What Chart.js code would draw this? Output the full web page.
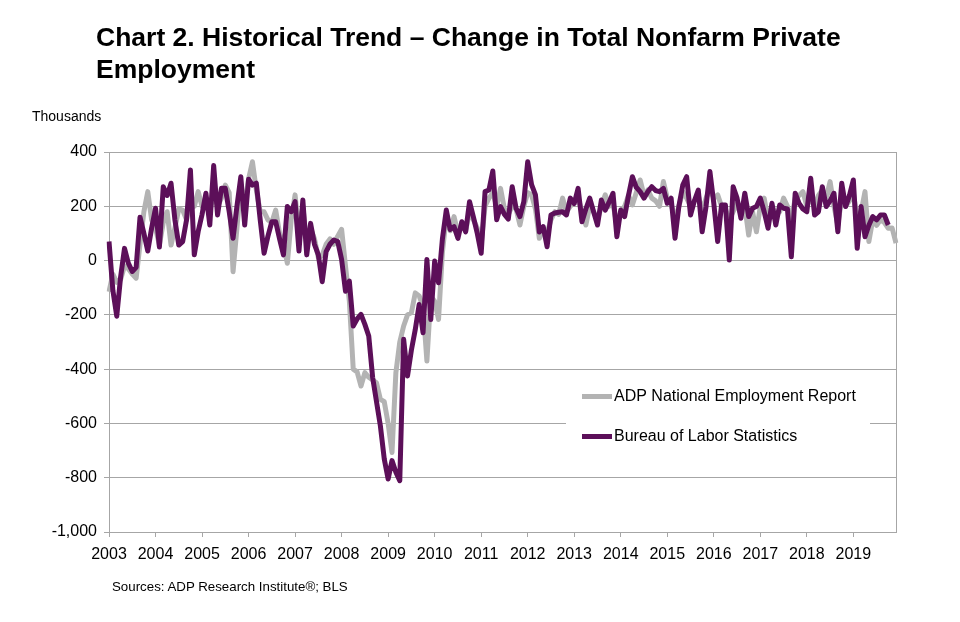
<!DOCTYPE html>
<html>
<head>
<meta charset="utf-8">
<script src="https://cdn.jsdelivr.net/npm/chart.js@4"></script>
<style>
  body { margin: 0; background: #fff; font-family: Arial, "Liberation Sans", sans-serif; }
  #wrap { position: relative; width: 960px; height: 622px; overflow: hidden; }
  #chart { position: absolute; left: 0; top: 0; }
  .title { position: absolute; left: 96px; top: 21px; font-size: 26.5px; line-height: 32px; font-weight: bold; color: #000; white-space: nowrap; }
  .units { position: absolute; left: 32px; top: 109px; font-size: 14px; line-height: 14px; color: #000; }
  .source { position: absolute; left: 112px; top: 580px; font-size: 13.3px; line-height: 14px; color: #000; }
</style>
</head>
<body>
<div id="wrap">
  <canvas id="chart" width="960" height="622"></canvas>
  <div class="title">Chart 2. Historical Trend – Change in Total Nonfarm Private<br>Employment</div>
  <div class="units">Thousands</div>
  <div class="source">Sources: ADP Research Institute®; BLS</div>
</div>
<script>
// monthly change, thousands, Jan 2003 .. Dec 2019 (one row per year)
var adp = [
  -115, -50, -80, -70, -20, -30, -50, -65, 60, 180, 254, 150,
  120, 57, 140, 180, 57, 120, 190, 186, 150, 230, 200, 254,
  200, 230, 180, 250, 200, 230, 278, 250, -41, 120, 280, 200,
  300, 364, 260, 180, 180, 150, 140, 186, 100, 60, -10, 150,
  242, 100, 200, 60, 120, 80, 10, 20, 60, 80, 60, 90,
  115, -20, -150, -400, -410, -462, -413, -430, -440, -450, -511, -520,
  -600, -707, -413, -300, -241, -200, -192, -119, -130, -170, -370, -131,
  -150, -217, 30, 163, 110, 162, 100, 130, 110, 180, 150, 120,
  60, 200, 230, 250, 200, 266, 190, 170, 200, 190, 131, 200,
  250, 242, 190, 82, 120, 100, 150, 180, 170, 230, 180, 200,
  220, 230, 180, 131, 200, 180, 150, 200, 242, 200, 210, 130,
  180, 200, 240, 205, 250, 297, 240, 260, 230, 220, 200, 291,
  230, 210, 150, 200, 254, 230, 200, 220, 240, 180, 230, 266,
  230, 242, 200, 190, 150, 180, 210, 170, 200, 94, 180, 106,
  200, 230, 150, 200, 170, 180, 230, 200, 150, 230, 240, 254,
  200, 230, 200, 240, 260, 230, 291, 200, 131, 230, 200, 220,
  250, 150, 180, 254, 70, 150, 130, 150, 140, 119, 120, 64
]
var bls = [
  70, -110, -205, -60, 45, -10, -40, -25, 160, 100, 35, 120,
  193, 50, 272, 240, 285, 150, 57, 70, 150, 334, 21, 107,
  170, 248, 131, 350, 168, 266, 266, 180, 82, 200, 309, 131,
  300, 278, 285, 150, 27, 90, 143, 143, 80, 21, 199, 180,
  217, 35, 223, 21, 137, 60, 21, -78, 33, 60, 76, 70,
  4, -113, -76, -241, -215, -198, -235, -278, -430, -520, -609, -731,
  -805, -737, -780, -811, -290, -425, -330, -254, -162, -266, 4, -217,
  -2, -82, 80, 186, 114, 125, 82, 143, 106, 217, 160, 100,
  27, 254, 260, 330, 150, 199, 170, 153, 272, 193, 162, 217,
  364, 280, 242, 105, 125, 51, 168, 175, 178, 180, 168, 230,
  210, 266, 143, 190, 230, 180, 131, 223, 186, 215, 248, 88,
  186, 162, 240, 309, 270, 254, 230, 254, 272, 258, 254, 266,
  211, 230, 82, 200, 278, 309, 168, 220, 260, 106, 199, 328,
  211, 70, 205, 205, 2, 272, 230, 156, 248, 162, 193, 199,
  230, 180, 119, 211, 131, 205, 193, 190, 14, 248, 211, 190,
  180, 303, 168, 180, 272, 199, 220, 248, 106, 285, 199, 240,
  297, 45, 199, 88, 130, 162, 150, 168, 168, 131
]
var years = ['2003','2004','2005','2006','2007','2008','2009','2010','2011','2012','2013','2014','2015','2016','2017','2018','2019']
var yTicks = [400, 200, 0, -200, -400, -600, -800, -1000]

var months = []
for (var i = 0; i < years.length; i++) {
  for (var m = 1; m <= 12; m++) months.push(years[i] + '-' + (m < 10 ? '0' + m : m))
}

var gridColor = '#a6a6a6'
Chart.defaults.font.family = 'Arial, "Liberation Sans", sans-serif'
Chart.defaults.color = '#000'

// legend box drawn inside the plot, lower right
var boxLegend = {
  id: 'boxLegend',
  afterDatasetsDraw: function(chart) {
    var ctx = chart.ctx
    ctx.save()
    ctx.fillStyle = '#fff'
    ctx.fillRect(566, 376, 304, 78)
    ctx.font = '16px Arial, "Liberation Sans", sans-serif'
    ctx.textBaseline = 'middle'
    chart.data.datasets.forEach(function(ds, k) {
      var y = 396.5 + k * 40
      ctx.strokeStyle = ds.borderColor
      ctx.lineWidth = ds.borderWidth
      ctx.beginPath()
      ctx.moveTo(582, y)
      ctx.lineTo(612, y)
      ctx.stroke()
      ctx.fillStyle = '#000'
      ctx.fillText(ds.label, 614, y)
    })
    ctx.restore()
  }
}

new Chart(document.getElementById('chart'), {
  type: 'line',
  data: {
    labels: months,
    datasets: [{
      label: 'ADP National Employment Report',
      data: adp,
      borderColor: '#b3b3b3',
      borderWidth: 5,
      pointRadius: 0,
      tension: 0,
      borderJoinStyle: 'round',
      order: 2
    }, {
      label: 'Bureau of Labor Statistics',
      data: bls,
      borderColor: '#5c0f59',
      borderWidth: 5,
      pointRadius: 0,
      tension: 0,
      borderJoinStyle: 'round',
      order: 1
    }]
  },
  options: {
    responsive: false,
    animation: false,
    devicePixelRatio: 1,
    layout: { padding: { top: 152, right: 64, bottom: 0, left: 0 } },
    plugins: { legend: { display: false }, tooltip: { enabled: false } },
    scales: {
      x: {
        offset: false,
        grid: { offset: false, drawOnChartArea: false, tickLength: 5, color: gridColor },
        border: { color: gridColor },
        ticks: {
          autoSkip: false, maxRotation: 0, padding: 8,
          font: { size: 16 },
          callback: function(v, idx) { return idx % 12 === 0 ? years[idx / 12] : null }
        },
        afterFit: function(s) { s.height = 90 }
      },
      y: {
        min: -1000, max: 400,
        grid: { color: gridColor, tickLength: 5 },
        border: { color: gridColor },
        afterBuildTicks: function(s) { s.ticks = yTicks.map(function(v) { return { value: v } }) },
        ticks: {
          padding: 7,
          font: { size: 16 },
          callback: function(v) { return v.toLocaleString('en-US') }
        },
        afterFit: function(s) { s.width = 109 }
      },
      y2: {
        position: 'right',
        min: -1000, max: 400,
        grid: { drawOnChartArea: false, drawTicks: false },
        border: { color: gridColor },
        ticks: { display: false },
        afterFit: function(s) { s.width = 0 }
      }
    }
  },
  plugins: [boxLegend]
})
</script>
</body>
</html>
